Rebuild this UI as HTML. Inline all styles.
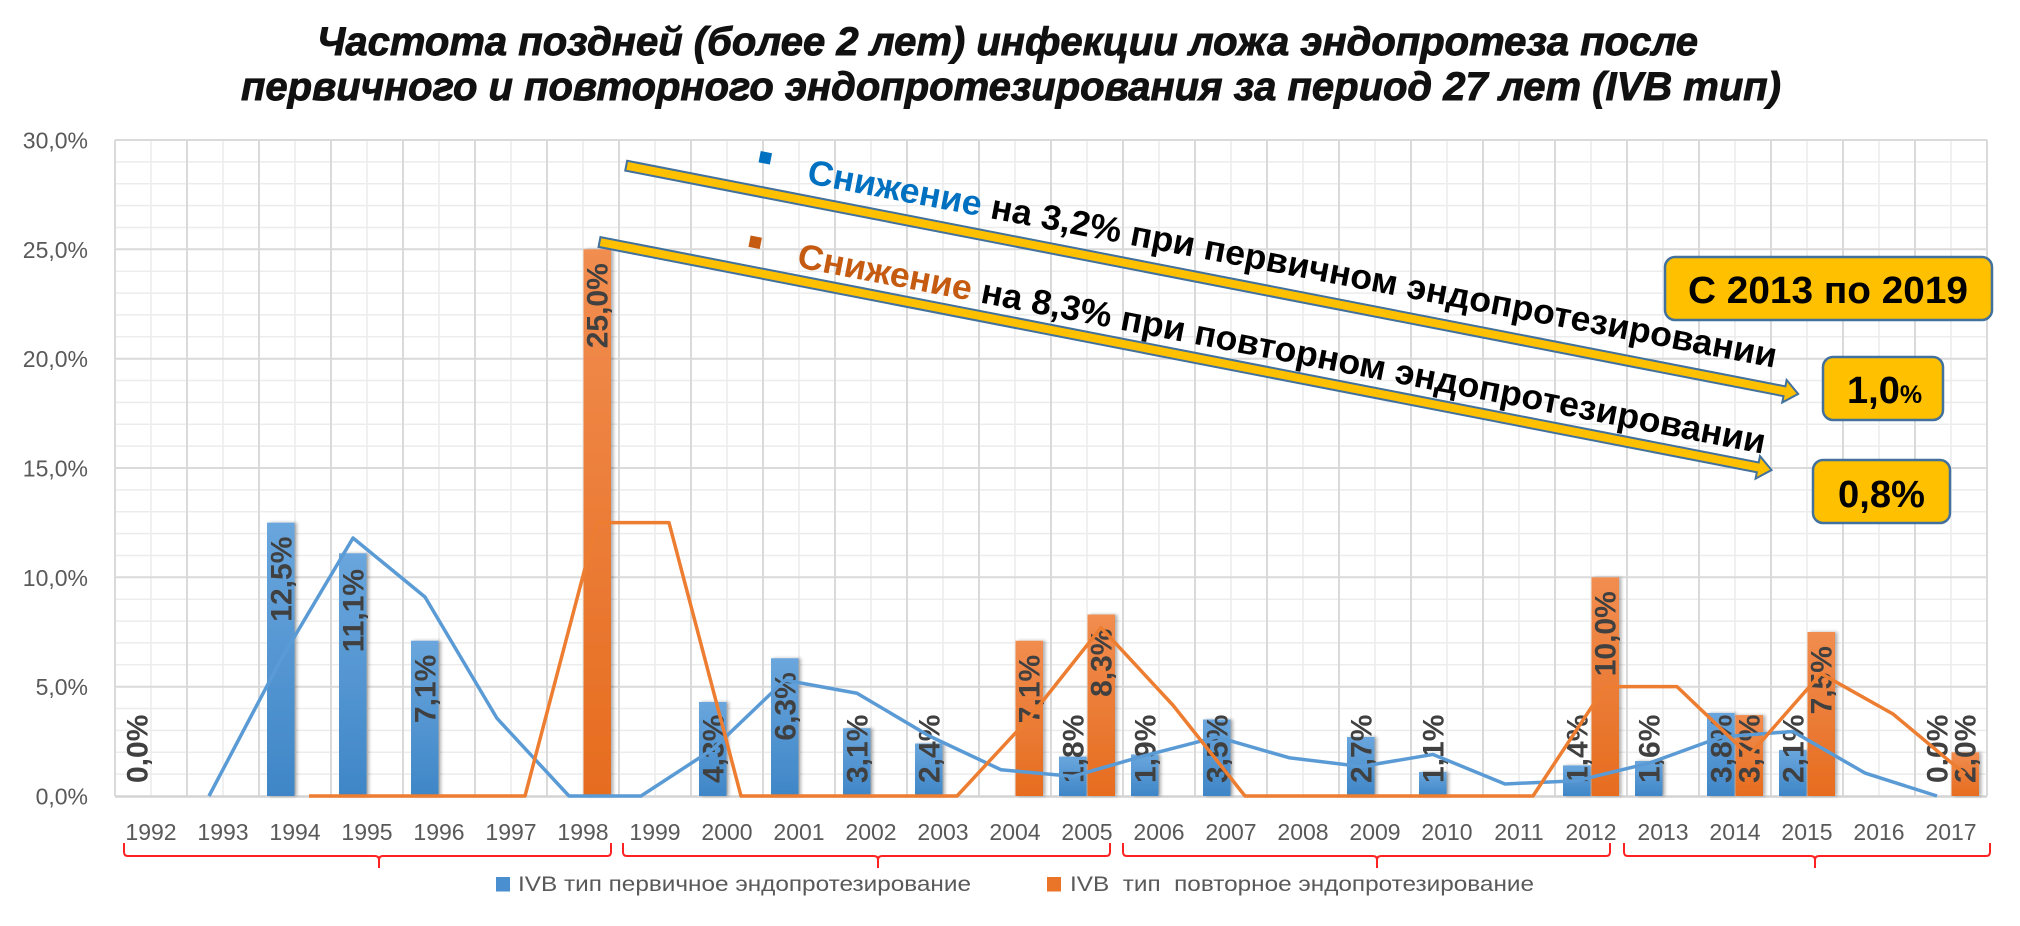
<!DOCTYPE html>
<html><head><meta charset="utf-8">
<style>
html,body{margin:0;padding:0;background:#fff}
svg{display:block}
text{font-family:"Liberation Sans","DejaVu Sans",sans-serif}
</style></head>
<body>
<svg width="2020" height="926" viewBox="0 0 2020 926" xmlns="http://www.w3.org/2000/svg">
<defs>
<linearGradient id="gb" x1="0" y1="0" x2="0" y2="1"><stop offset="0" stop-color="#6aa6dd"/><stop offset="1" stop-color="#3f86c7"/></linearGradient>
<linearGradient id="go" x1="0" y1="0" x2="0" y2="1"><stop offset="0" stop-color="#f18d50"/><stop offset="1" stop-color="#e66c1f"/></linearGradient>
<filter id="sh" x="-30%" y="-5%" width="160%" height="110%"><feDropShadow dx="2.5" dy="0" stdDeviation="1.5" flood-color="#000" flood-opacity="0.3"/></filter>
</defs>
<rect width="2020" height="926" fill="#fff"/>

<!-- Title -->
<text x="317" y="55" font-size="40" font-weight="bold" font-style="italic" fill="#111" stroke="#111" stroke-width="0.9" textLength="1381" lengthAdjust="spacingAndGlyphs">Частота поздней (более 2 лет) инфекции ложа эндопротеза после</text>
<text x="241" y="100" font-size="40" font-weight="bold" font-style="italic" fill="#111" stroke="#111" stroke-width="0.9" textLength="1540" lengthAdjust="spacingAndGlyphs">первичного и повторного эндопротезирования за период 27 лет (IVB тип)</text>

<!-- Grid -->
<path fill="none" stroke="#ececec" stroke-width="1.5" d="M151 140V796M223 140V796M295 140V796M367 140V796M439 140V796M511 140V796M583 140V796M655 140V796M727 140V796M799 140V796M871 140V796M943 140V796M1015 140V796M1087 140V796M1159 140V796M1231 140V796M1303 140V796M1375 140V796M1447 140V796M1519 140V796M1591 140V796M1663 140V796M1735 140V796M1807 140V796M1879 140V796M1951 140V796
M115 774.1H1987M115 752.3H1987M115 730.4H1987M115 708.5H1987M115 664.8H1987M115 642.9H1987M115 621.1H1987M115 599.2H1987M115 555.5H1987M115 533.6H1987M115 511.7H1987M115 489.9H1987M115 446.1H1987M115 424.3H1987M115 402.4H1987M115 380.5H1987M115 336.8H1987M115 314.9H1987M115 293.1H1987M115 271.2H1987M115 227.5H1987M115 205.6H1987M115 183.7H1987M115 161.9H1987"/>
<path fill="none" stroke="#dadada" stroke-width="2" d="M115 140V796M187 140V796M259 140V796M331 140V796M403 140V796M475 140V796M547 140V796M619 140V796M691 140V796M763 140V796M835 140V796M907 140V796M979 140V796M1051 140V796M1123 140V796M1195 140V796M1267 140V796M1339 140V796M1411 140V796M1483 140V796M1555 140V796M1627 140V796M1699 140V796M1771 140V796M1843 140V796M1915 140V796M1987 140V796
M115 686.7H1987M115 577.3H1987M115 468H1987M115 358.7H1987M115 249.3H1987M115 140H1987"/>
<line x1="115" y1="796.5" x2="1987" y2="796.5" stroke="#d4d4d4" stroke-width="2.5"/>

<!-- Y labels -->
<g font-size="23" fill="#595959" text-anchor="end">
<text x="88" y="148.5">30,0%</text>
<text x="88" y="257.8">25,0%</text>
<text x="88" y="367.2">20,0%</text>
<text x="88" y="476.5">15,0%</text>
<text x="88" y="585.8">10,0%</text>
<text x="88" y="695.2">5,0%</text>
<text x="88" y="804.5">0,0%</text>
</g>

<!-- Bars -->
<g filter="url(#sh)">
<g fill="url(#gb)">
<rect x="267" y="522.67" width="27.5" height="273.33"/>
<rect x="339" y="553.28" width="27.5" height="242.72"/>
<rect x="411" y="640.75" width="27.5" height="155.25"/>
<rect x="699" y="701.97" width="27.5" height="94.03"/>
<rect x="771" y="658.24" width="27.5" height="137.76"/>
<rect x="843" y="728.21" width="27.5" height="67.79"/>
<rect x="915" y="743.52" width="27.5" height="52.48"/>
<rect x="1059" y="756.64" width="27.5" height="39.36"/>
<rect x="1131" y="754.45" width="27.5" height="41.55"/>
<rect x="1203" y="719.47" width="27.5" height="76.53"/>
<rect x="1347" y="736.96" width="27.5" height="59.04"/>
<rect x="1419" y="771.95" width="27.5" height="24.05"/>
<rect x="1563" y="765.39" width="27.5" height="30.61"/>
<rect x="1635" y="761.01" width="27.5" height="34.99"/>
<rect x="1707" y="712.91" width="27.5" height="83.09"/>
<rect x="1779" y="750.08" width="27.5" height="45.92"/>
</g>
<g fill="url(#go)">
<rect x="583.5" y="249.33" width="27.5" height="546.67"/>
<rect x="1015.5" y="640.75" width="27.5" height="155.25"/>
<rect x="1087.5" y="614.51" width="27.5" height="181.49"/>
<rect x="1591.5" y="577.33" width="27.5" height="218.67"/>
<rect x="1735.5" y="715.09" width="27.5" height="80.91"/>
<rect x="1807.5" y="632" width="27.5" height="164"/>
<rect x="1951.5" y="752.27" width="27.5" height="43.73"/>
</g>
</g>

<!-- Bar labels -->
<g font-size="30" font-weight="bold" fill="#404040">
<text transform="translate(147.5,783) rotate(-90)">0,0%</text>
<text transform="translate(291.5,621.7) rotate(-90)">12,5%</text>
<text transform="translate(363.5,652.3) rotate(-90)">11,1%</text>
<text transform="translate(435.5,723.1) rotate(-90)">7,1%</text>
<text transform="translate(723.5,783) rotate(-90)">4,3%</text>
<text transform="translate(795.5,740.6) rotate(-90)">6,3%</text>
<text transform="translate(867.5,783) rotate(-90)">3,1%</text>
<text transform="translate(939.5,783) rotate(-90)">2,4%</text>
<text transform="translate(1083.5,783) rotate(-90)">1,8%</text>
<text transform="translate(1155.5,783) rotate(-90)">1,9%</text>
<text transform="translate(1227.5,783) rotate(-90)">3,5%</text>
<text transform="translate(1371.5,783) rotate(-90)">2,7%</text>
<text transform="translate(1443.5,783) rotate(-90)">1,1%</text>
<text transform="translate(1587.5,783) rotate(-90)">1,4%</text>
<text transform="translate(1659.5,783) rotate(-90)">1,6%</text>
<text transform="translate(1731.5,783) rotate(-90)">3,8%</text>
<text transform="translate(1803.5,783) rotate(-90)">2,1%</text>
<text transform="translate(1947.5,783) rotate(-90)">0,0%</text>
<text transform="translate(607.5,348.3) rotate(-90)">25,0%</text>
<text transform="translate(1039.5,723.2) rotate(-90)">7,1%</text>
<text transform="translate(1111.5,696.9) rotate(-90)">8,3%</text>
<text transform="translate(1615.5,676.3) rotate(-90)">10,0%</text>
<text transform="translate(1759.5,783) rotate(-90)">3,7%</text>
<text transform="translate(1831.5,714.4) rotate(-90)">7,5%</text>
<text transform="translate(1975.5,783) rotate(-90)">2,0%</text>
</g>

<!-- Moving average lines -->
<polyline fill="none" stroke="#5b9bd5" stroke-width="3.5" stroke-linejoin="round" points="209,796 281,659.33 353,537.97 425,597.01 497,718.37 569,796 641,796 713,748.99 785,680.11 857,693.23 929,735.87 1001,769.76 1073,776.32 1145,755.55 1217,736.96 1289,757.73 1361,766.48 1433,754.45 1505,783.97 1577,780.69 1649,763.2 1721,736.96 1793,731.49 1865,773.04 1937,796"/>
<polyline fill="none" stroke="#ed7d31" stroke-width="3.5" stroke-linejoin="round" points="309,796 381,796 453,796 525,796 597,522.67 669,522.67 741,796 813,796 885,796 957,796 1029,718.37 1101,627.63 1173,705.25 1245,796 1317,796 1389,796 1461,796 1533,796 1605,686.67 1677,686.67 1749,755.55 1821,673.55 1893,714 1965,774.13"/>

<!-- X labels -->
<g font-size="23" fill="#595959" text-anchor="middle">
<text x="151" y="840">1992</text><text x="223" y="840">1993</text><text x="295" y="840">1994</text><text x="367" y="840">1995</text><text x="439" y="840">1996</text><text x="511" y="840">1997</text><text x="583" y="840">1998</text><text x="655" y="840">1999</text><text x="727" y="840">2000</text><text x="799" y="840">2001</text><text x="871" y="840">2002</text><text x="943" y="840">2003</text><text x="1015" y="840">2004</text><text x="1087" y="840">2005</text><text x="1159" y="840">2006</text><text x="1231" y="840">2007</text><text x="1303" y="840">2008</text><text x="1375" y="840">2009</text><text x="1447" y="840">2010</text><text x="1519" y="840">2011</text><text x="1591" y="840">2012</text><text x="1663" y="840">2013</text><text x="1735" y="840">2014</text><text x="1807" y="840">2015</text><text x="1879" y="840">2016</text><text x="1951" y="840">2017</text>
</g>

<!-- Brackets -->
<g fill="none" stroke="#f22" stroke-width="2">
<path d="M124 843V852Q124 856 128 856H375Q379 856 379 860V868M379 860Q379 856 383 856H607Q611 856 611 852V843"/>
<path d="M623 843V852Q623 856 627 856H874Q878 856 878 860V868M878 860Q878 856 882 856H1106Q1110 856 1110 852V843"/>
<path d="M1123 843V852Q1123 856 1127 856H1373Q1377 856 1377 860V868M1377 860Q1377 856 1381 856H1606Q1610 856 1610 852V843"/>
<path d="M1624 843V852Q1624 856 1628 856H1811Q1815 856 1815 860V868M1815 860Q1815 856 1819 856H1986Q1990 856 1990 852V843"/>
</g>

<!-- Legend -->
<rect x="496" y="877" width="14" height="14.5" fill="#4a8fd0"/>
<text x="518" y="891" font-size="21" fill="#595959" textLength="453" lengthAdjust="spacingAndGlyphs">IVB тип первичное эндопротезирование</text>
<rect x="1047" y="877" width="14" height="14.5" fill="#ea7428"/>
<text x="1070" y="891" font-size="21" fill="#595959" textLength="464" lengthAdjust="spacingAndGlyphs" xml:space="preserve">IVB  тип  повторное эндопротезирование</text>

<!-- Arrows -->
<g transform="translate(626.2,165.7) rotate(11.02)">
<polygon points="0,-5 1180,-5 1180,-11.5 1194,0 1180,11.5 1180,5 0,5" fill="#ffc000" stroke="#41719c" stroke-width="2"/>
</g>
<g transform="translate(599.5,242) rotate(11.01)">
<polygon points="0,-5 1180,-5 1180,-11.5 1194,0 1180,11.5 1180,5 0,5" fill="#ffc000" stroke="#41719c" stroke-width="2"/>
</g>

<!-- Bullets -->
<rect x="759.5" y="152" width="11.5" height="11.5" fill="#0070c0" transform="rotate(11 765 158)"/>
<rect x="749.5" y="236.5" width="11.5" height="11.5" fill="#c55a11" transform="rotate(11 755 242)"/>

<!-- Annotation texts -->
<text transform="translate(806,183) rotate(10.8)" font-size="35" font-weight="bold" fill="#000" textLength="986" lengthAdjust="spacingAndGlyphs"><tspan fill="#0070c0">Снижение</tspan> на 3,2% при первичном эндопротезировании</text>
<text transform="translate(796,267) rotate(10.93)" font-size="35" font-weight="bold" fill="#000" textLength="985" lengthAdjust="spacingAndGlyphs"><tspan fill="#c55a11">Снижение</tspan> на 8,3% при повторном эндопротезировании</text>

<!-- Boxes -->
<rect x="1665" y="257" width="327" height="63" rx="10" fill="#ffc000" stroke="#41719c" stroke-width="2.5"/>
<text x="1688" y="303" font-size="38" font-weight="bold" fill="#000" textLength="280" lengthAdjust="spacingAndGlyphs">С 2013 по 2019</text>
<rect x="1823" y="357" width="120" height="63" rx="10" fill="#ffc000" stroke="#41719c" stroke-width="2.5"/>
<text x="1847" y="403" font-size="38" font-weight="bold" fill="#000">1,0<tspan font-size="25">%</tspan></text>
<rect x="1813" y="460" width="137" height="63" rx="10" fill="#ffc000" stroke="#41719c" stroke-width="2.5"/>
<text x="1838" y="507" font-size="38" font-weight="bold" fill="#000" textLength="87" lengthAdjust="spacingAndGlyphs">0,8%</text>
</svg>
</body></html>
